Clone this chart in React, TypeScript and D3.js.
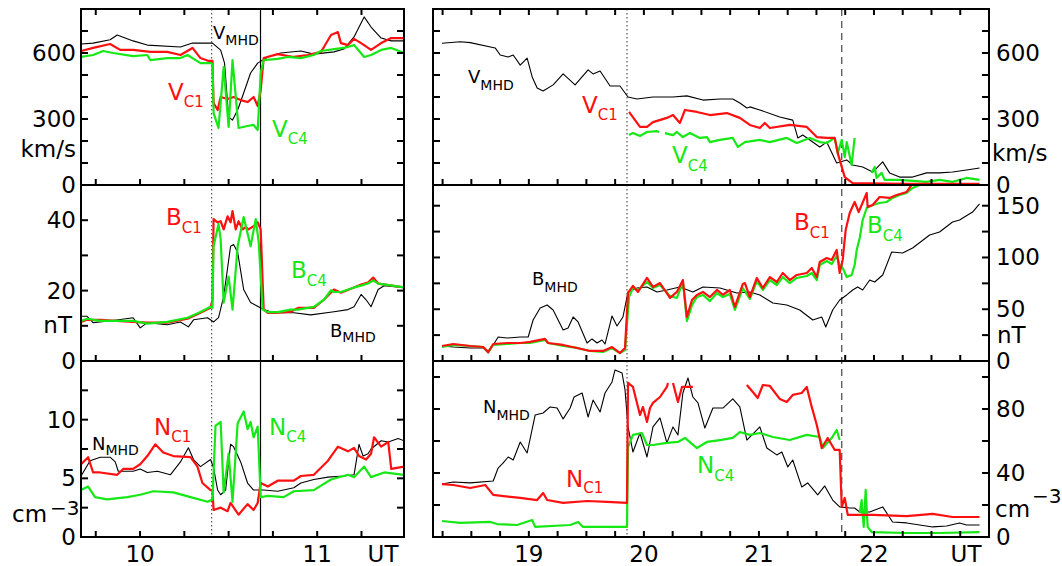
import React from "react";
import * as d3 from "d3";

type Pt = [number, number | null];

// ---------- left block, 09:40 - 11:30 UT ----------
const leftVMhd: Pt[] = [
  [9.667, 641], [9.735, 645], [9.831, 660], [9.871, 682], [9.961, 655], [10.041, 636], [10.228, 627],
  [10.296, 645], [10.409, 645], [10.455, 613], [10.477, 554], [10.5, 309], [10.522, 295], [10.551, 341],
  [10.585, 418], [10.624, 509], [10.664, 554], [10.721, 582], [10.794, 600], [10.908, 609], [10.981, 595],
  [11.095, 605], [11.151, 618], [11.208, 673], [11.265, 764], [11.304, 718], [11.361, 668], [11.418, 655],
  [11.491, 655],
];
const leftVC1: Pt[] = [
  [9.667, 609], [9.735, 623], [9.831, 641], [9.888, 614], [9.961, 614], [10.058, 605], [10.154, 605],
  [10.228, 591], [10.296, 623], [10.341, 577], [10.387, 564], [10.409, 564], [10.415, 373], [10.438, 341],
  [10.455, 400], [10.494, 391], [10.528, 400], [10.568, 386], [10.607, 377], [10.641, 400], [10.664, 359],
  [10.681, 432], [10.698, 577], [10.777, 595], [10.868, 582], [10.947, 591], [11.021, 605], [11.038, 627],
  [11.078, 682], [11.117, 695], [11.134, 645], [11.174, 636], [11.208, 664], [11.248, 645], [11.304, 614],
  [11.361, 645], [11.418, 668], [11.491, 668],
];
const leftVC4: Pt[] = [
  [9.667, 582], [9.735, 591], [9.792, 609], [9.848, 600], [9.961, 586], [10.041, 591], [10.058, 568],
  [10.154, 577], [10.228, 577], [10.268, 591], [10.341, 554], [10.398, 554], [10.409, 550], [10.415, 327],
  [10.443, 259], [10.472, 536], [10.5, 264], [10.522, 568], [10.556, 259], [10.607, 268], [10.641, 273],
  [10.664, 250], [10.681, 509], [10.698, 568], [10.777, 573], [10.834, 582], [10.908, 577], [10.981, 591],
  [11.021, 609], [11.095, 618], [11.151, 623], [11.208, 636], [11.265, 582], [11.304, 591], [11.361, 614],
  [11.418, 623], [11.491, 600],
];

const leftBMhd: Pt[] = [
  [9.667, 12.7], [9.701, 12.7], [9.735, 10.9], [9.848, 11.5], [9.961, 12.3], [10.001, 9.4], [10.041, 10.9],
  [10.154, 10.3], [10.228, 11.1], [10.273, 9.7], [10.302, 11.7], [10.381, 12.3], [10.415, 11.1],
  [10.443, 12.3], [10.472, 18.3], [10.511, 32.6], [10.528, 33.1], [10.551, 30.9], [10.585, 20.3],
  [10.624, 16.6], [10.698, 14.6], [10.755, 13.7], [10.868, 13.7], [10.964, 13.1], [11.095, 14.0],
  [11.174, 14.6], [11.208, 15.4], [11.248, 18.9], [11.276, 17.4], [11.304, 15.4], [11.344, 20.3],
  [11.378, 21.4], [11.435, 21.1], [11.491, 20.9],
];
const leftBC1: Pt[] = [
  [9.667, 11.1], [9.701, 11.7], [9.775, 11.7], [9.961, 11.1], [10.041, 10.9], [10.154, 10.9], [10.268, 12.0],
  [10.341, 13.7], [10.398, 15.1], [10.409, 17.4], [10.415, 40.3], [10.438, 39.4], [10.455, 39.7],
  [10.472, 37.4], [10.494, 41.1], [10.511, 39.4], [10.522, 42.6], [10.54, 37.4], [10.556, 39.7],
  [10.579, 37.4], [10.596, 38.0], [10.613, 37.4], [10.641, 38.3], [10.664, 39.4], [10.681, 37.4],
  [10.698, 14.6], [10.721, 13.7], [10.777, 13.7], [10.851, 14.0], [10.891, 15.1], [10.981, 15.1],
  [11.038, 17.4], [11.095, 20.3], [11.134, 19.4], [11.208, 20.9], [11.248, 21.7], [11.287, 22.3],
  [11.316, 23.7], [11.344, 22.0], [11.491, 20.9],
];
const leftBC4: Pt[] = [
  [9.667, 11.4], [9.701, 12.0], [9.775, 11.4], [9.961, 11.4], [10.041, 10.6], [10.154, 11.1], [10.268, 12.3],
  [10.341, 13.9], [10.398, 15.4], [10.409, 15.1], [10.415, 32.6], [10.443, 38.9], [10.455, 34.6],
  [10.472, 16.6], [10.5, 24.0], [10.522, 14.6], [10.551, 32.6], [10.585, 40.9], [10.624, 32.6],
  [10.653, 40.3], [10.67, 33.7], [10.692, 14.6], [10.721, 13.9], [10.777, 13.9], [10.851, 14.6],
  [10.891, 14.6], [10.947, 15.1], [10.981, 15.4], [11.038, 17.4], [11.078, 20.1], [11.095, 19.6],
  [11.134, 19.6], [11.208, 20.9], [11.248, 21.4], [11.287, 22.0], [11.316, 22.9], [11.344, 22.0],
  [11.491, 20.9],
];

const leftNMhd: Pt[] = [
  [9.667, 5.2], [9.718, 6.5], [9.775, 6.8], [9.831, 6.8], [9.86, 6.4], [9.877, 5.6], [9.961, 5.6],
  [10.001, 5.8], [10.041, 5.5], [10.098, 5.6], [10.171, 5.3], [10.228, 6.4], [10.273, 7.6], [10.302, 6.6],
  [10.341, 6.0], [10.398, 6.6], [10.415, 5.9], [10.438, 4.0], [10.455, 3.6], [10.483, 4.0], [10.511, 7.9],
  [10.528, 7.7], [10.568, 6.4], [10.607, 4.6], [10.641, 4.0], [10.698, 4.0], [10.777, 3.9], [10.868, 4.2],
  [10.908, 4.6], [10.981, 4.9], [11.061, 5.1], [11.151, 5.2], [11.208, 5.3], [11.236, 7.9], [11.259, 6.9],
  [11.287, 7.1], [11.304, 7.5], [11.361, 8.2], [11.401, 8.1], [11.457, 8.4], [11.491, 8.2],
];
const leftNC1: Pt[] = [
  [9.667, 6.2], [9.707, 6.8], [9.735, 5.5], [9.775, 5.5], [9.871, 5.3], [9.905, 5.8], [9.961, 5.8],
  [10.001, 6.2], [10.041, 6.9], [10.086, 7.9], [10.131, 7.2], [10.188, 6.9], [10.285, 6.8], [10.324, 6.0],
  [10.352, 4.6], [10.398, 4.0], [10.409, 4.0], [10.415, 2.3], [10.455, 2.5], [10.494, 2.2], [10.511, 2.9],
  [10.556, 1.9], [10.607, 2.8], [10.641, 2.3], [10.664, 2.9], [10.681, 4.6], [10.721, 4.3], [10.777, 4.8],
  [10.868, 4.8], [10.908, 5.2], [10.981, 5.3], [11.061, 6.5], [11.117, 7.7], [11.174, 7.3], [11.208, 7.6],
  [11.236, 6.9], [11.276, 6.6], [11.304, 7.1], [11.321, 8.5], [11.361, 7.7], [11.401, 8.1], [11.418, 5.8],
  [11.491, 6.0],
];
const leftNC4: Pt[] = [
  [9.667, 4.0], [9.707, 4.3], [9.746, 3.4], [9.814, 3.2], [9.928, 3.4], [10.001, 3.6], [10.075, 3.9],
  [10.188, 3.8], [10.285, 3.4], [10.381, 3.0], [10.409, 3.2], [10.426, 9.5], [10.455, 9.8], [10.472, 3.8],
  [10.5, 7.1], [10.522, 3.0], [10.551, 9.7], [10.585, 10.7], [10.607, 9.2], [10.624, 9.8], [10.641, 8.5],
  [10.664, 9.4], [10.681, 3.4], [10.721, 3.5], [10.811, 3.4], [10.868, 3.9], [10.981, 4.0], [11.078, 4.9],
  [11.174, 5.3], [11.208, 5.1], [11.265, 6.0], [11.304, 5.1], [11.378, 5.5], [11.491, 5.3],
];

// ---------- right block, 18:10 - 23:00 UT ----------
const rightVMhd: Pt[] = [
  [18.245, 644], [18.404, 651], [18.49, 647], [18.707, 623], [18.751, 591], [18.82, 582], [18.864, 591],
  [18.925, 545], [18.985, 577], [19.029, 491], [19.072, 441], [19.124, 427], [19.211, 455], [19.298, 505],
  [19.402, 455], [19.515, 523], [19.558, 505], [19.619, 518], [19.706, 450], [19.792, 450], [19.862, 400],
  [19.94, 391], [20.079, 400], [20.253, 400], [20.374, 405], [20.513, 386], [20.661, 391], [20.773, 391],
  [20.834, 373], [20.895, 350], [20.921, 355], [21.008, 341], [21.181, 309], [21.294, 295], [21.338, 214],
  [21.381, 227], [21.529, 173], [21.589, 195], [21.676, 100], [21.763, 114], [21.815, 91], [21.902, 82],
  [21.989, 59], [22.076, 105], [22.136, 55], [22.223, 36], [22.336, 36], [22.457, 55], [22.57, 55],
  [22.683, 59], [22.805, 68], [22.918, 77],
];
const rightVC1: Pt[] = [
  [19.871, 332], [19.966, 264], [20.027, 264], [20.079, 286], [20.2, 305], [20.253, 318], [20.313, 282],
  [20.357, 341], [20.461, 332], [20.574, 318], [20.721, 327], [20.834, 305], [20.921, 273], [21.008, 259],
  [21.051, 282], [21.095, 259], [21.268, 273], [21.416, 264], [21.503, 218], [21.589, 214], [21.659, 214],
  [21.685, 145], [21.746, 36], [21.815, 9], [22.284, 5], [22.918, 5],
];
const rightVC4: Pt[] = [
  [19.871, 227], [19.905, 236], [19.966, 223], [20.027, 241], [20.114, 245], [20.131, 240], [20.15, null],
  [20.183, 236], [20.253, 227], [20.287, 241], [20.339, 218], [20.4, 236], [20.487, 214], [20.548, 218],
  [20.574, 195], [20.661, 205], [20.773, 214], [20.817, 173], [20.878, 195], [21.008, 205], [21.095, 195],
  [21.242, 214], [21.329, 191], [21.442, 214], [21.529, 195], [21.589, 191], [21.659, 214], [21.685, 145],
  [21.72, 205], [21.746, 127], [21.763, 195], [21.806, 91], [21.832, 214], [21.9, null], [21.98, 55],
  [22.006, 82], [22.023, 32], [22.067, 55], [22.093, 23], [22.223, 23], [22.457, 14], [22.57, 23],
  [22.683, 14], [22.805, 32], [22.918, 23],
];

const rightBMhd: Pt[] = [
  [18.245, 14.5], [18.343, 13.5], [18.49, 12.6], [18.603, 12.6], [18.647, 7.7], [18.733, 23.2],
  [18.812, 22.2], [18.925, 23.2], [18.994, 23.2], [19.037, 39.6], [19.098, 51.2], [19.159, 54.1],
  [19.211, 49.3], [19.298, 29.9], [19.341, 31.9], [19.385, 42.5], [19.428, 37.7], [19.506, 17.4],
  [19.549, 21.3], [19.593, 17.4], [19.636, 20.3], [19.662, 16.4], [19.723, 43.5], [19.766, 33.8],
  [19.818, 42.5], [19.862, 66.7], [19.94, 70.5], [20.027, 71.5], [20.114, 66.7], [20.2, 68.6],
  [20.313, 71.5], [20.426, 66.7], [20.513, 71.5], [20.661, 70.5], [20.808, 65.7], [20.921, 66.7],
  [21.008, 63.8], [21.121, 56], [21.242, 54.1], [21.355, 49.3], [21.468, 39.6], [21.546, 42.5],
  [21.581, 32.8], [21.641, 49.3], [21.702, 58.9], [21.763, 63.8], [21.815, 68.6], [21.858, 71.5],
  [21.902, 68.6], [21.963, 78.2], [22.006, 76.3], [22.076, 83.1], [22.154, 105.3], [22.249, 104.3],
  [22.336, 109.2], [22.484, 121.7], [22.57, 124.6], [22.683, 134.3], [22.744, 136.2], [22.857, 143.9],
  [22.918, 151.7],
];
const rightBC1: Pt[] = [
  [18.245, 14.5], [18.343, 16.4], [18.49, 14.5], [18.603, 13.5], [18.647, 8.7], [18.69, 16.4], [18.812, 17.4],
  [18.925, 17.4], [19.011, 18.4], [19.141, 21.3], [19.167, 17.4], [19.298, 15.5], [19.419, 12.6],
  [19.532, 9.7], [19.645, 9.7], [19.723, 13.5], [19.792, 7.7], [19.836, 12.6], [19.862, 65.7],
  [19.905, 72.5], [19.949, 66.7], [20.027, 80.2], [20.079, 71.5], [20.14, 75.3], [20.227, 60.9],
  [20.287, 66.7], [20.339, 78.2], [20.374, 42.5], [20.418, 58.9], [20.461, 63.8], [20.513, 66.7],
  [20.574, 61.8], [20.635, 68.6], [20.687, 64], [20.747, 68.6], [20.791, 52.2], [20.86, 74.4],
  [20.878, 75.3], [20.921, 61.8], [20.982, 80.2], [21.034, 70.5], [21.095, 81.1], [21.155, 76.3],
  [21.207, 85], [21.268, 78.2], [21.329, 83.1], [21.416, 85], [21.459, 89.9], [21.503, 81.1],
  [21.529, 95.6], [21.589, 99.5], [21.633, 97.6], [21.676, 107.2], [21.702, 85], [21.728, 97.6],
  [21.754, 126.5], [21.789, 143], [21.832, 153.6], [21.867, 143.9], [21.937, 162.3], [21.945, 148.8],
  [21.989, 150.7], [22.049, 158.4], [22.136, 157.5], [22.197, 160.4], [22.284, 163.3], [22.327, 170],
  [22.918, 170],
];
const rightBC4: Pt[] = [
  [18.245, 13.5], [18.343, 15.5], [18.49, 14.5], [18.603, 13.5], [18.647, 8.7], [18.69, 15.5], [18.812, 16.4],
  [18.925, 17.4], [19.011, 17.4], [19.141, 20.3], [19.167, 17.4], [19.298, 14.5], [19.419, 12.6],
  [19.532, 9.7], [19.645, 8.7], [19.723, 12.6], [19.792, 7.7], [19.836, 10.6], [19.871, 62],
  [19.905, 70.5], [19.949, 68.6], [20.027, 76.3], [20.079, 70.5], [20.14, 73.4], [20.227, 62.8],
  [20.287, 60.9], [20.339, 76.3], [20.374, 38.6], [20.418, 54], [20.461, 61.8], [20.513, 63.8],
  [20.574, 57.9], [20.635, 65.7], [20.687, 61.8], [20.747, 64.8], [20.791, 49.3], [20.86, 70.5],
  [20.921, 59.9], [20.982, 77.2], [21.034, 68.6], [21.095, 78.2], [21.155, 73.4], [21.207, 81.1],
  [21.268, 75.3], [21.329, 80.2], [21.416, 82.1], [21.459, 85], [21.503, 78.2], [21.529, 92.7],
  [21.589, 96.6], [21.633, 93.7], [21.676, 101.4], [21.702, 92.7], [21.728, 89.9], [21.763, 81.1],
  [21.806, 83.1], [21.832, 92.7], [21.85, 107.2], [21.876, 118.8], [21.902, 136.2], [21.937, 147.8],
  [21.989, 150.7], [22.049, 152.6], [22.11, 153.6], [22.162, 157.5], [22.223, 160.4], [22.284, 162.3],
  [22.336, 167.1], [22.397, 170], [22.918, 170],
];

const rightNMhd: Pt[] = [
  [18.245, 33.1], [18.343, 34.4], [18.49, 33.8], [18.69, 35], [18.733, 43.1], [18.777, 46.3], [18.82, 50],
  [18.864, 48.1], [18.925, 59.4], [18.985, 52.5], [19.055, 76.3], [19.124, 77.5], [19.185, 81.3],
  [19.246, 80.6], [19.298, 73.8], [19.359, 80.6], [19.393, 87.5], [19.463, 90], [19.515, 75],
  [19.558, 85.6], [19.619, 78.1], [19.662, 90], [19.723, 96.9], [19.749, 104.4], [19.81, 102.5],
  [19.836, 91.9], [19.862, 68.8], [19.905, 53.1], [19.966, 65], [20.027, 50], [20.079, 68.8],
  [20.14, 74.4], [20.2, 58.8], [20.253, 68.8], [20.296, 63.8], [20.339, 90], [20.383, 99.4],
  [20.426, 87.5], [20.47, 83.8], [20.53, 68.1], [20.6, 80.6], [20.687, 80.6], [20.773, 86.3],
  [20.834, 81.3], [20.895, 60.6], [21.008, 68.8], [21.069, 55.6], [21.155, 51.3], [21.199, 53.1],
  [21.251, 43.8], [21.294, 48.1], [21.372, 31.3], [21.424, 33.8], [21.511, 26.3], [21.572, 31.9],
  [21.641, 23.1], [21.702, 18.8], [21.789, 18.1], [21.832, 18.1], [21.876, 15.6], [21.963, 15.6],
  [22.076, 18.8], [22.162, 9.4], [22.284, 8.8], [22.397, 7.5], [22.51, 6.3], [22.631, 6.9],
  [22.744, 8.8], [22.805, 7.5], [22.918, 7.5],
];
const rightNC1: Pt[] = [
  [18.245, 33.1], [18.343, 32.5], [18.49, 30.6], [18.621, 32.5], [18.69, 26.3], [18.925, 24.4],
  [19.072, 23.1], [19.124, 27.5], [19.159, 23.1], [19.298, 21.3], [19.506, 22.5], [19.68, 21.9],
  [19.853, 21.3], [19.862, 96.3], [19.905, 93.8], [19.966, 76.3], [19.992, 81.3], [20.027, 71.9],
  [20.053, 80.6], [20.079, 83.8], [20.14, 87.5], [20.2, 93.8], [20.209, 96.3], [20.23, null],
  [20.253, 96.3], [20.296, 84.4], [20.331, 93.8], [20.426, 93.8], [20.5, null], [20.895, 95],
  [20.947, 90.6], [20.99, 86.9], [21.034, 95], [21.095, 94.4], [21.181, 86.3], [21.242, 84.4],
  [21.294, 88.8], [21.372, 90], [21.416, 93.8], [21.459, 81.3], [21.503, 70], [21.546, 55.6],
  [21.598, 61.9], [21.659, 54.4], [21.702, 54.4], [21.72, 18.8], [21.746, 24.4], [21.772, 13.8],
  [21.989, 13.8], [22.284, 13.1], [22.51, 14.4], [22.683, 12.5], [22.918, 12.5],
];
const rightNC4: Pt[] = [
  [18.245, 10], [18.404, 8.8], [18.664, 9.4], [18.725, 8.1], [18.898, 7.5], [19.029, 10.6], [19.055, 6.3],
  [19.359, 7.5], [19.428, 9.4], [19.471, 6.3], [19.853, 6.3], [19.862, 56.3], [19.905, 63.8],
  [19.983, 65], [20.027, 57.5], [20.079, 57.5], [20.2, 58.8], [20.296, 59.4], [20.357, 61.9],
  [20.461, 55.6], [20.548, 59.4], [20.661, 60.6], [20.773, 61.9], [20.834, 65.6], [20.921, 63.8],
  [21.008, 65], [21.121, 62.5], [21.268, 60.6], [21.416, 63.8], [21.529, 62.5], [21.555, 55.6],
  [21.633, 61.9], [21.676, 66.9], [21.702, 60.6], [21.8, null], [21.876, 15], [21.893, 23.1],
  [21.911, 6.3], [21.928, 29.4], [21.945, 6.3], [21.98, 3.1], [22.284, 2.5], [22.57, 2.5], [22.918, 3.1],
];

// event lines (UT hours)
const leftDotted = 10.404;
const leftSolid = 10.68;
const rightDotted = 19.853;
const rightDashed = 21.72;

// tick labels
const leftHours = [10, 11];
const rightHours = [19, 20, 21, 22];

const RED = "#ff1010";
const GREEN = "#16e816";
const BLACK = "#000";
const FONT = "DejaVu Sans, Arial, sans-serif";

const ROWS: [number, number][] = [[9, 185], [185, 361], [361, 537]];
const LX: [number, number] = [81, 404];
const RX: [number, number] = [433, 989];

const xLeft = d3.scaleLinear().domain([9.6667, 11.49]).range(LX);
const xRight = d3.scaleLinear().domain([18.1667, 23.0]).range(RX);

type Panel = {
  max: number;
  minor: number;
  labels: number[];
  unit: string;
  series: [Pt[], string, number][];
};

const leftPanels: Panel[] = [
  { max: 800, minor: 100, labels: [0, 300, 600], unit: "km/s",
    series: [[leftVMhd, BLACK, 1.1], [leftVC1, RED, 2.2], [leftVC4, GREEN, 2.2]] },
  { max: 50, minor: 10, labels: [0, 20, 40], unit: "nT",
    series: [[leftBMhd, BLACK, 1.1], [leftBC1, RED, 2.2], [leftBC4, GREEN, 2.2]] },
  { max: 15, minor: 2.5, labels: [0, 5, 10], unit: "cm",
    series: [[leftNMhd, BLACK, 1.1], [leftNC1, RED, 2.2], [leftNC4, GREEN, 2.2]] },
];
const rightPanels: Panel[] = [
  { max: 800, minor: 100, labels: [0, 300, 600], unit: "km/s",
    series: [[rightVMhd, BLACK, 1.1], [rightVC4, GREEN, 2.2], [rightVC1, RED, 2.2]] },
  { max: 170, minor: 25, labels: [0, 50, 100, 150], unit: "nT",
    series: [[rightBMhd, BLACK, 1.1], [rightBC4, GREEN, 2.2], [rightBC1, RED, 2.2]] },
  { max: 110, minor: 20, labels: [0, 40, 80], unit: "cm",
    series: [[rightNMhd, BLACK, 1.1], [rightNC4, GREEN, 2.2], [rightNC1, RED, 2.2]] },
];

// series labels: [x, y, main, sub, color, subDy]
const seriesLabels: [number, number, string, string, string, number][] = [
  [213, 39, "V", "MHD", BLACK, 6],
  [168, 100, "V", "C1", RED, 7],
  [272, 137, "V", "C4", GREEN, 7],
  [166, 225, "B", "C1", RED, 8],
  [291, 278, "B", "C4", GREEN, 8],
  [330, 337, "B", "MHD", BLACK, 5],
  [92, 450, "N", "MHD", BLACK, 5],
  [154, 435, "N", "C1", RED, 7],
  [269, 435, "N", "C4", GREEN, 7],
  [468, 83, "V", "MHD", BLACK, 7],
  [582, 113, "V", "C1", RED, 7],
  [672, 163, "V", "C4", GREEN, 8],
  [532, 285, "B", "MHD", BLACK, 7],
  [794, 230, "B", "C1", RED, 8],
  [867, 233, "B", "C4", GREEN, 8],
  [483, 413, "N", "MHD", BLACK, 7],
  [566, 487, "N", "C1", RED, 6],
  [697, 473, "N", "C4", GREEN, 8],
];

const Block = ({ panels, x, side, id }: { panels: Panel[]; x: d3.ScaleLinear<number, number>; side: "left" | "right"; id: string }) => {
  const [x0, x1] = x.range();
  const quarter = d3.range(Math.ceil(x.domain()[0] * 4) / 4, x.domain()[1] + 1e-6, 0.25);
  return (
    <g>
      {panels.map((p, i) => {
        const [top, bottom] = ROWS[i];
        const y = d3.scaleLinear().domain([0, p.max]).range([bottom, top]);
        const line = d3
          .line<Pt>()
          .defined((d) => d[1] !== null)
          .x((d) => x(d[0]))
          .y((d) => y(d[1] as number));
        const ticks = d3.range(p.minor, p.max - 1e-6, p.minor);
        const lx = side === "left" ? 76 : 996;
        const anchor = side === "left" ? "end" : "start";
        return (
          <g key={i}>
            <clipPath id={`${id}-c${i}`}>
              <rect x={x0} y={top - 2} width={x1 - x0} height={bottom - top + 2} />
            </clipPath>
            <g clipPath={`url(#${id}-c${i})`}>
              {p.series.map(([data, color, w], k) => (
                <path key={k} d={line(data) || ""} fill="none" stroke={color} strokeWidth={w} strokeLinejoin="round" />
              ))}
            </g>
            <rect x={x0} y={top} width={x1 - x0} height={bottom - top} fill="none" stroke="#000" strokeWidth={2} />
            {ticks.map((t) => (
              <g key={t} stroke="#000" strokeWidth={2}>
                <line x1={x0} x2={x0 + 7} y1={y(t)} y2={y(t)} />
                <line x1={x1 - 7} x2={x1} y1={y(t)} y2={y(t)} />
              </g>
            ))}
            {quarter.map((t) => (
              <g key={t} stroke="#000" strokeWidth={2}>
                <line x1={x(t)} x2={x(t)} y1={bottom} y2={bottom - 6} />
                {i === 0 && <line x1={x(t)} x2={x(t)} y1={top} y2={top + 6} />}
              </g>
            ))}
            {p.labels.map((v) => (
              <text key={v} x={lx} y={y(v)} textAnchor={anchor} dominantBaseline="central" fontSize={23} fontFamily={FONT}>
                {v}
              </text>
            ))}
          </g>
        );
      })}
    </g>
  );
};

const App = () => {
  const vlines: [number, string, string][] = [
    [xLeft(leftDotted), "1.5,2.5", "#555"],
    [xLeft(leftSolid), "", "#000"],
    [xRight(rightDotted), "1.5,2.5", "#555"],
    [xRight(rightDashed), "7,5", "#444"],
  ];
  return (
    <div style={{ position: "absolute", left: 0, top: 0 }}>
      <svg width={1062} height={566} style={{ display: "block", background: "#fff" }}>
        {vlines.map(([vx, dash, c], i) => (
          <line key={i} x1={vx} x2={vx} y1={9} y2={537} stroke={c} strokeWidth={1.2} strokeDasharray={dash || undefined} />
        ))}
        <Block panels={leftPanels} x={xLeft} side="left" id="l" />
        <Block panels={rightPanels} x={xRight} side="right" id="r" />

        {/* unit labels */}
        <g fontFamily={FONT} fontSize={23}>
          <text x={76} y={157} textAnchor="end">km/s</text>
          <text x={72} y={333} textAnchor="end">nT</text>
          <text x={12} y={522}>cm</text>
          <text x={50} y={515} fontSize={20}>−3</text>
          <text x={992} y={161}>km/s</text>
          <text x={997} y={343}>nT</text>
          <text x={995} y={517}>cm</text>
          <text x={1032} y={503} fontSize={20}>−3</text>
        </g>

        {/* time axis */}
        <g fontFamily={FONT} fontSize={23} textAnchor="middle">
          {leftHours.map((h) => (
            <text key={h} x={xLeft(h)} y={554} dominantBaseline="central">{h}</text>
          ))}
          {rightHours.map((h) => (
            <text key={h} x={xRight(h)} y={554} dominantBaseline="central">{h}</text>
          ))}
          <text x={383} y={554} dominantBaseline="central">UT</text>
          <text x={966} y={554} dominantBaseline="central">UT</text>
        </g>

        {/* series labels */}
        {seriesLabels.map(([lx, ly, main, sub, color, dy], i) => {
          const big = color !== BLACK;
          return (
            <text key={i} x={lx} y={ly} fill={color} fontFamily={FONT} fontSize={big ? 23 : 18}>
              {main}
              <tspan dy={dy} fontSize={big ? 15 : 14}>{sub}</tspan>
            </text>
          );
        })}
      </svg>
    </div>
  );
};

export default App;
